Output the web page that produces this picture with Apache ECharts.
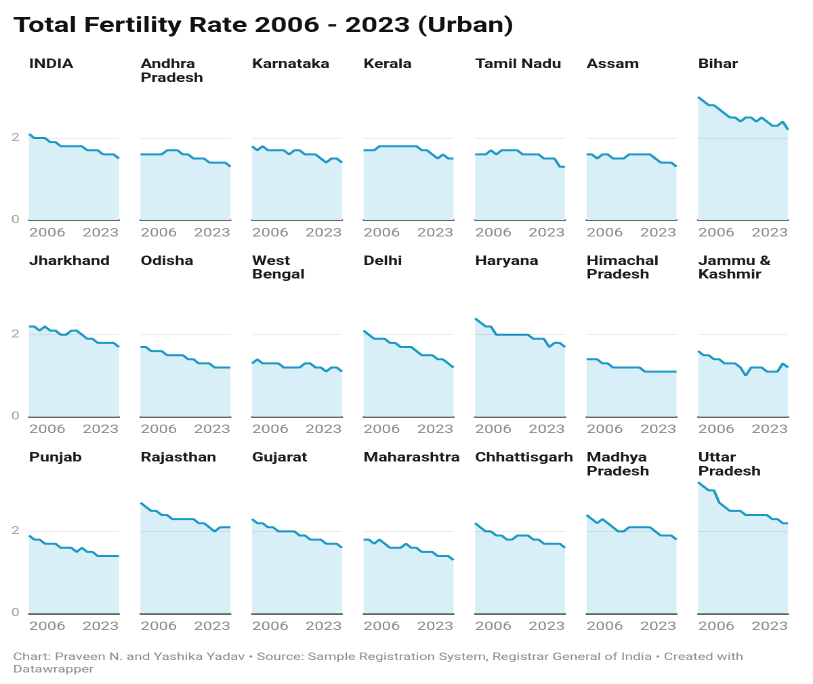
<!DOCTYPE html>
<html>
<head>
<meta charset="utf-8">
<script src="https://cdn.jsdelivr.net/npm/echarts@6/dist/echarts.min.js"></script>
<style>
  html, body { margin: 0; padding: 0; background: #ffffff; overflow: hidden; }
  #chart { width: 600px; height: 684px; transform: scaleX(1.355); transform-origin: 0 0; }
</style>
</head>
<body>
<div id="chart"></div>
<script>
// ---------- DATA ----------
const years = ['2006','2007','2008','2009','2010','2011','2012','2013','2014','2015','2016','2017','2018','2019','2020','2021','2022','2023'];
const xTickLabels = ['2006', '2023'];
const yTickLabels = [0, 2];

const chartTitle = 'Total Fertility Rate 2006 - 2023 (Urban)';
const footerText = 'Chart: Praveen N. and Yashika Yadav \u2022 Source: Sample Registration System, Registrar General of India \u2022 Created with\nDatawrapper';

const stateLabels = [
  'INDIA', 'Andhra\nPradesh', 'Karnataka', 'Kerala', 'Tamil Nadu', 'Assam', 'Bihar',
  'Jharkhand', 'Odisha', 'West\nBengal', 'Delhi', 'Haryana', 'Himachal\nPradesh', 'Jammu &\nKashmir',
  'Punjab', 'Rajasthan', 'Gujarat', 'Maharashtra', 'Chhattisgarh', 'Madhya\nPradesh', 'Uttar\nPradesh'
];

const india          = [2.1,2.0,2.0,2.0,1.9,1.9,1.8,1.8,1.8,1.8,1.8,1.7,1.7,1.7,1.6,1.6,1.6,1.5];
const andhraPradesh  = [1.6,1.6,1.6,1.6,1.6,1.7,1.7,1.7,1.6,1.6,1.5,1.5,1.5,1.4,1.4,1.4,1.4,1.3];
const karnataka      = [1.8,1.7,1.8,1.7,1.7,1.7,1.7,1.6,1.7,1.7,1.6,1.6,1.6,1.5,1.4,1.5,1.5,1.4];
const kerala         = [1.7,1.7,1.7,1.8,1.8,1.8,1.8,1.8,1.8,1.8,1.8,1.7,1.7,1.6,1.5,1.6,1.5,1.5];
const tamilNadu      = [1.6,1.6,1.6,1.7,1.6,1.7,1.7,1.7,1.7,1.6,1.6,1.6,1.6,1.5,1.5,1.5,1.3,1.3];
const assam          = [1.6,1.6,1.5,1.6,1.6,1.5,1.5,1.5,1.6,1.6,1.6,1.6,1.6,1.5,1.4,1.4,1.4,1.3];
const bihar          = [3.0,2.9,2.8,2.8,2.7,2.6,2.5,2.5,2.4,2.5,2.5,2.4,2.5,2.4,2.3,2.3,2.4,2.2];
const jharkhand      = [2.2,2.2,2.1,2.2,2.1,2.1,2.0,2.0,2.1,2.1,2.0,1.9,1.9,1.8,1.8,1.8,1.8,1.7];
const odisha         = [1.7,1.7,1.6,1.6,1.6,1.5,1.5,1.5,1.5,1.4,1.4,1.3,1.3,1.3,1.2,1.2,1.2,1.2];
const westBengal     = [1.3,1.4,1.3,1.3,1.3,1.3,1.2,1.2,1.2,1.2,1.3,1.3,1.2,1.2,1.1,1.2,1.2,1.1];
const delhi          = [2.1,2.0,1.9,1.9,1.9,1.8,1.8,1.7,1.7,1.7,1.6,1.5,1.5,1.5,1.4,1.4,1.3,1.2];
const haryana        = [2.4,2.3,2.2,2.2,2.0,2.0,2.0,2.0,2.0,2.0,2.0,1.9,1.9,1.9,1.7,1.8,1.8,1.7];
const himachal       = [1.4,1.4,1.4,1.3,1.3,1.2,1.2,1.2,1.2,1.2,1.2,1.1,1.1,1.1,1.1,1.1,1.1,1.1];
const jammuKashmir   = [1.6,1.5,1.5,1.4,1.4,1.3,1.3,1.3,1.2,1.0,1.2,1.2,1.2,1.1,1.1,1.1,1.3,1.2];
const punjab         = [1.9,1.8,1.8,1.7,1.7,1.7,1.6,1.6,1.6,1.5,1.6,1.5,1.5,1.4,1.4,1.4,1.4,1.4];
const rajasthan      = [2.7,2.6,2.5,2.5,2.4,2.4,2.3,2.3,2.3,2.3,2.3,2.2,2.2,2.1,2.0,2.1,2.1,2.1];
const gujarat        = [2.3,2.2,2.2,2.1,2.1,2.0,2.0,2.0,2.0,1.9,1.9,1.8,1.8,1.8,1.7,1.7,1.7,1.6];
const maharashtra    = [1.8,1.8,1.7,1.8,1.7,1.6,1.6,1.6,1.7,1.6,1.6,1.5,1.5,1.5,1.4,1.4,1.4,1.3];
const chhattisgarh   = [2.2,2.1,2.0,2.0,1.9,1.9,1.8,1.8,1.9,1.9,1.9,1.8,1.8,1.7,1.7,1.7,1.7,1.6];
const madhyaPradesh  = [2.4,2.3,2.2,2.3,2.2,2.1,2.0,2.0,2.1,2.1,2.1,2.1,2.1,2.0,1.9,1.9,1.9,1.8];
const uttarPradesh   = [3.2,3.1,3.0,3.0,2.7,2.6,2.5,2.5,2.5,2.4,2.4,2.4,2.4,2.4,2.3,2.3,2.2,2.2];

const stateSeries = [
  india, andhraPradesh, karnataka, kerala, tamilNadu, assam, bihar,
  jharkhand, odisha, westBengal, delhi, haryana, himachal, jammuKashmir,
  punjab, rajasthan, gujarat, maharashtra, chhattisgarh, madhyaPradesh, uttarPradesh
];

// ---------- LAYOUT ----------
const COLS = 7;
const plotLeft0 = 21.4, colStep = 82.3, plotW = 66.4;
const zeroY0 = 220, rowStep = 196.7, plotH = 131.2;
const yMax = 3.2;
const FONT = 'Roboto, "Noto Sans", sans-serif';
const lineColor = '#1a98c6';
const areaColor = '#d9eff7';

const grids = [], xAxes = [], yAxes = [], series = [];
const titles = [
  { text: chartTitle, left: 9.6, top: 13.5, padding: 0,
    textStyle: { fontFamily: FONT, fontSize: 21, fontWeight: 'bold', color: '#111111', lineHeight: 26 } },
  { text: footerText, left: 9.6, top: 651.3, padding: 0,
    textStyle: { fontFamily: FONT, fontSize: 10.5, fontWeight: 'normal', color: '#8c8c8c', lineHeight: 12.5 } }
];

stateSeries.forEach((vals, i) => {
  const c = i % COLS, r = Math.floor(i / COLS);
  const left = plotLeft0 + c * colStep;
  const zeroY = zeroY0 + r * rowStep;
  grids.push({ left: left, top: zeroY - plotH, width: plotW, height: plotH, containLabel: false, outerBoundsMode: 'none' });
  titles.push({
    text: stateLabels[i], left: left, top: 58.2 + r * rowStep, padding: 0,
    textStyle: { fontFamily: FONT, fontSize: 12.5, fontWeight: 'bold', color: '#1a1a1a', lineHeight: 13.8 }
  });
  xAxes.push({
    type: 'category', gridIndex: i, data: years, boundaryGap: false,
    axisLine: { show: true, lineStyle: { color: '#333333', width: 1.5 } },
    axisTick: { show: false },
    splitLine: { show: false },
    axisLabel: {
      interval: 16, margin: 7.5, color: '#8a8a8a', fontFamily: FONT, fontSize: 12,
      alignMinLabel: 'left', alignMaxLabel: 'right',
      formatter: v => (xTickLabels.indexOf(v) >= 0 ? v : '')
    }
  });
  yAxes.push({
    type: 'value', gridIndex: i, min: 0, max: yMax, interval: 2,
    axisLine: { show: false }, axisTick: { show: false }, splitLine: { show: false },
    axisLabel: {
      show: c === 0, margin: 7, color: '#a0a0a0', fontFamily: FONT, fontSize: 11,
      showMaxLabel: false,
      formatter: v => (yTickLabels.indexOf(v) >= 0 ? String(v) : '')
    }
  });
  series.push({
    type: 'line', name: stateLabels[i].replace('\n', ' '), xAxisIndex: i, yAxisIndex: i,
    data: vals, symbol: 'none', smooth: false,
    lineStyle: { color: lineColor, width: 2 },
    itemStyle: { color: lineColor },
    areaStyle: { color: areaColor, opacity: 1 },
    markLine: {
      silent: true, symbol: ['none', 'none'], label: { show: false },
      lineStyle: { color: 'rgba(0,0,0,0.08)', type: 'solid', width: 1 },
      emphasis: { disabled: true },
      data: [{ yAxis: yTickLabels[1] }]
    }
  });
});

const chart = echarts.init(document.getElementById('chart'), null, { renderer: 'canvas', devicePixelRatio: 2 });
chart.setOption({
  animation: false,
  backgroundColor: '#ffffff',
  title: titles,
  grid: grids,
  xAxis: xAxes,
  yAxis: yAxes,
  series: series
});
</script>
</body>
</html>
